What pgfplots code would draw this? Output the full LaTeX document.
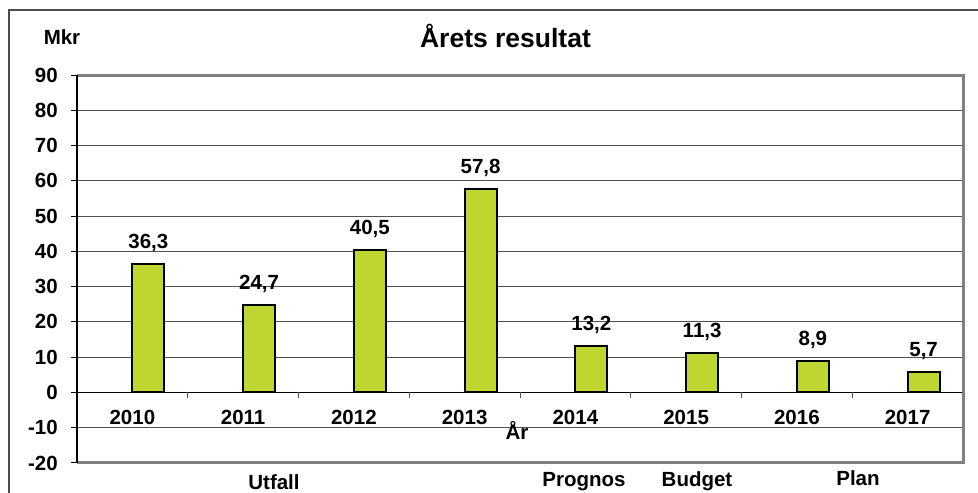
\documentclass[border=0pt]{standalone}
\usepackage{fontspec}
\setmainfont{Liberation Sans}
\usepackage{pgfplots}
\usepackage{pgfplotstable}
\pgfplotsset{compat=1.18}
\definecolor{barfill}{RGB}{192,214,48}
\definecolor{gridc}{RGB}{80,80,80}
\definecolor{framec}{RGB}{128,128,128}
\newcommand\lab{\fontsize{20.5}{24}\selectfont\bfseries}
\pgfplotstableread{
x      y    lab
0.1445 36.3 {36,3}
1.1445 24.7 {24,7}
2.1445 40.5 {40,5}
3.1445 57.8 {57,8}
4.1445 13.2 {13,2}
5.1445 11.3 {11,3}
6.1445 8.9  {8,9}
7.1445 5.7  {5,7}
}\data
\begin{document}
\begin{tikzpicture}[x=1pt,y=1pt]
\useasboundingbox (0,0) rectangle (978,493);
\draw[line width=1.5pt, black!70] (9,-5) -- (9,483) -- (990,483);
\begin{axis}[
  at={(77pt,30pt)}, anchor=south west, scale only axis,
  width=886pt, height=388pt,
  xmin=-0.5, xmax=7.5, ymin=-20, ymax=90,
  xtick=\empty,
  ytick={-20,-10,...,90},
  ytick pos=left,
  tick align=outside,
  major tick length=6pt,
  ytick style={black, line width=1pt},
  ymajorgrids, grid style={gridc, line width=1pt},
  axis line style={draw=none},
  /pgf/number format/assume math mode=true,
  yticklabel style={font=\lab, anchor=east, inner sep=0pt, xshift=-13pt},
  clip=false,
]
\addplot[ybar, bar width=0.289, bar shift=0pt, fill=barfill, draw=black, line width=2pt,
  nodes near coords, point meta=explicit symbolic,
  every node near coord/.append style={font=\lab, anchor=base, yshift=15.5pt, black}]
  table[x=x, y=y, meta=lab] {\data};
\draw[black, line width=1.5pt] (axis cs:-0.5,0) -- (axis cs:7.5,0);
\draw[gridc, line width=1pt] (axis cs:0.5,0) -- ++(0pt,-6pt);
\draw[gridc, line width=1pt] (axis cs:1.5,0) -- ++(0pt,-6pt);
\draw[gridc, line width=1pt] (axis cs:2.5,0) -- ++(0pt,-6pt);
\draw[gridc, line width=1pt] (axis cs:3.5,0) -- ++(0pt,-6pt);
\draw[gridc, line width=1pt] (axis cs:4.5,0) -- ++(0pt,-6pt);
\draw[gridc, line width=1pt] (axis cs:5.5,0) -- ++(0pt,-6pt);
\draw[gridc, line width=1pt] (axis cs:6.5,0) -- ++(0pt,-6pt);
\draw[framec, line width=3pt] (axis cs:-0.5,90) -- (axis cs:7.5,90) -- (axis cs:7.5,-20) -- (axis cs:-0.5,-20);
\draw[black, line width=1.5pt] (axis cs:-0.5,-20) -- (axis cs:-0.5,90);
\node[font=\lab, anchor=base, yshift=-32.5pt] at (axis cs:0,0) {2010};
\node[font=\lab, anchor=base, yshift=-32.5pt] at (axis cs:1,0) {2011};
\node[font=\lab, anchor=base, yshift=-32.5pt] at (axis cs:2,0) {2012};
\node[font=\lab, anchor=base, yshift=-32.5pt] at (axis cs:3,0) {2013};
\node[font=\lab, anchor=base, yshift=-32.5pt] at (axis cs:4,0) {2014};
\node[font=\lab, anchor=base, yshift=-32.5pt] at (axis cs:5,0) {2015};
\node[font=\lab, anchor=base, yshift=-32.5pt] at (axis cs:6,0) {2016};
\node[font=\lab, anchor=base, yshift=-32.5pt] at (axis cs:7,0) {2017};
\end{axis}
\node[font=\fontsize{26.5}{30}\selectfont\bfseries, anchor=base] at (505.5,445) {Årets resultat};
\node[font=\lab, anchor=base] at (62,448) {Mkr};
\node[font=\lab, anchor=base] at (517,53) {År};
\node[font=\lab, anchor=base] at (274,3) {Utfall};
\node[font=\lab, anchor=base] at (584,6) {Prognos};
\node[font=\lab, anchor=base] at (697,6) {Budget};
\node[font=\lab, anchor=base] at (858,8) {Plan};
\end{tikzpicture}
\end{document}
